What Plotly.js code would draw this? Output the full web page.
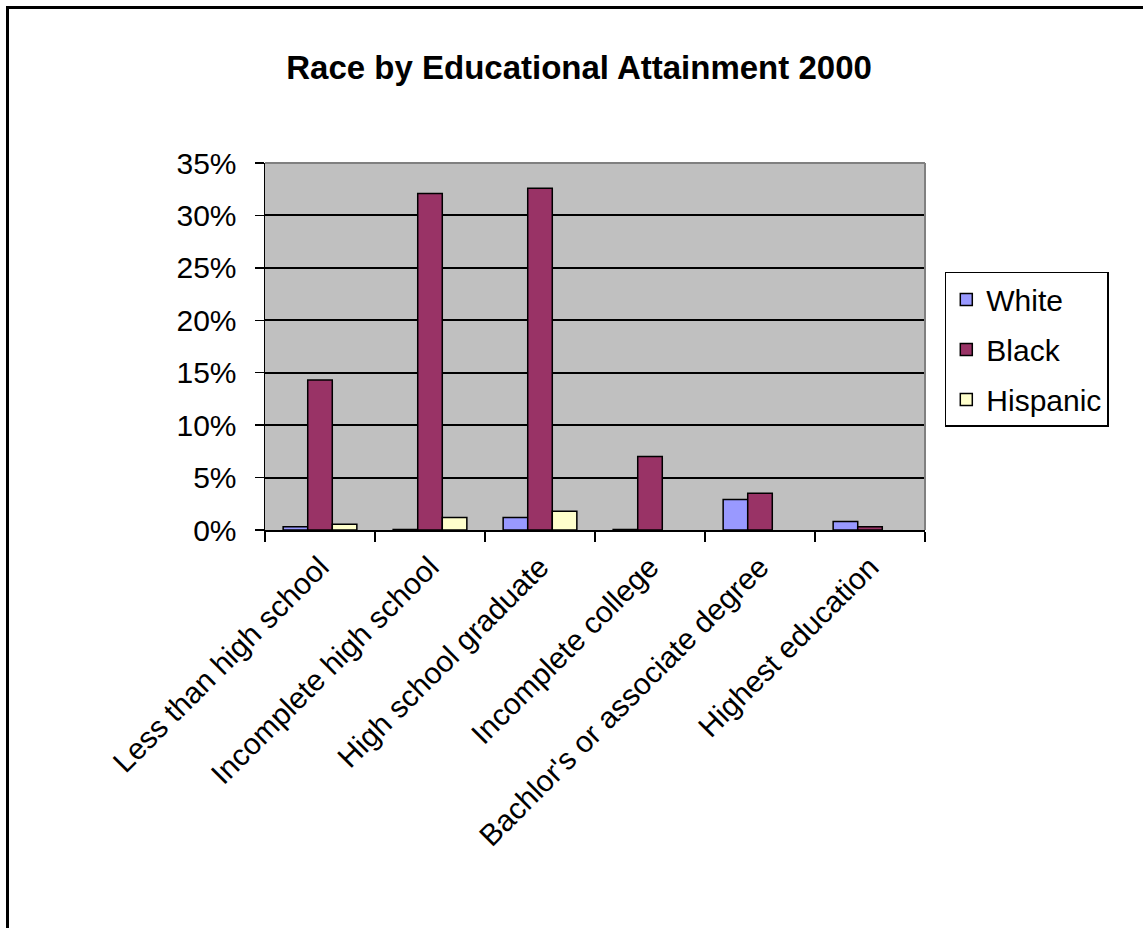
<!DOCTYPE html>
<html>
<head>
<meta charset="utf-8">
<script src="https://cdn.plot.ly/plotly-3.0.1.min.js"></script>
<style>
  html, body { margin: 0; padding: 0; background: #fff; }
  #chart { width: 1143px; height: 928px; }
  #frame { position: absolute; left: 6px; top: 6px; width: 1137px; height: 922px;
           border-left: 3px solid #000; border-top: 3px solid #000; box-sizing: border-box;
           pointer-events: none; }
</style>
</head>
<body>
<div id="chart"></div>
<div id="frame"></div>
<script>
const categories = [
  "Less than high school",
  "Incomplete high school",
  "High school graduate",
  "Incomplete college",
  "Bachlor's or associate degree",
  "Highest education"
];
const seriesNames = ["White", "Black", "Hispanic"];
const whiteValues = [0.3, 0.05, 1.2, 0.05, 2.9, 0.8];
const blackValues = [14.3, 32.1, 32.6, 7.0, 3.5, 0.3];
const hispanicValues = [0.55, 1.2, 1.8, null, null, null];
const yTickValues = [0, 5, 10, 15, 20, 25, 30, 35];

const colors = ["#9999FF", "#993366", "#FFFFCC"];
const allValues = [whiteValues, blackValues, hispanicValues];
const FONT = "Liberation Sans, Arial, sans-serif";

const traces = seriesNames.map((name, i) => ({
  type: "bar",
  name: name,
  x: categories,
  y: allValues[i],
  legendgroup: name,
  marker: { color: colors[i], line: { color: "#000", width: 1.5 } },
  hoverinfo: "x+y+name"
}));

const layout = {
  width: 1143,
  height: 928,
  paper_bgcolor: "#ffffff",
  plot_bgcolor: "#c0c0c0",
  margin: { l: 265, r: 218, t: 163, b: 398, pad: 0 },
  barmode: "group",
  bargap: 0.33,
  bargroupgap: 0,
  font: { family: FONT, color: "#000", size: 30 },
  title: {
    text: "<b>Race by Educational Attainment 2000</b>",
    font: { family: FONT, size: 33, color: "#000" },
    x: 0.5066, xref: "container", xanchor: "center",
    y: 0.927, yref: "container", yanchor: "middle"
  },
  xaxis: {
    type: "category",
    tickangle: -45,
    tickson: "boundaries",
    ticks: "outside",
    ticklen: 10,
    tickwidth: 1.5,
    tickcolor: "#000",
    showline: true,
    linecolor: "#000",
    linewidth: 1.5,
    showgrid: false,
    ticklabelstandoff: 6,
    tickfont: { family: FONT, size: 30, color: "#000" }
  },
  yaxis: {
    range: [0, 35],
    tickvals: yTickValues,
    ticktext: yTickValues.map(v => v + "%"),
    ticks: "outside",
    ticklen: 9,
    tickwidth: 1.5,
    tickcolor: "#000",
    showline: true,
    linecolor: "#000",
    linewidth: 1.5,
    showgrid: true,
    gridcolor: "#000",
    gridwidth: 2,
    zeroline: false,
    ticklabelstandoff: 12,
    tickfont: { family: FONT, size: 30, color: "#000" }
  },
  legend: {
    x: 1.03, xanchor: "left",
    y: 0.703, yanchor: "top",
    bgcolor: "#ffffff",
    bordercolor: "#000",
    borderwidth: 1.5,
    traceorder: "grouped",
    tracegroupgap: 8,
    font: { family: FONT, size: 30, color: "#000" }
  },
  shapes: [
    { type: "line", xref: "paper", yref: "paper", x0: 0, x1: 1, y0: 1, y1: 1,
      line: { color: "#808080", width: 2 }, layer: "above" },
    { type: "line", xref: "paper", yref: "paper", x0: 1, x1: 1, y0: 0, y1: 1,
      line: { color: "#808080", width: 2 }, layer: "above" }
  ]
};

Plotly.newPlot("chart", traces, layout, { displayModeBar: false, staticPlot: true });
</script>
</body>
</html>
